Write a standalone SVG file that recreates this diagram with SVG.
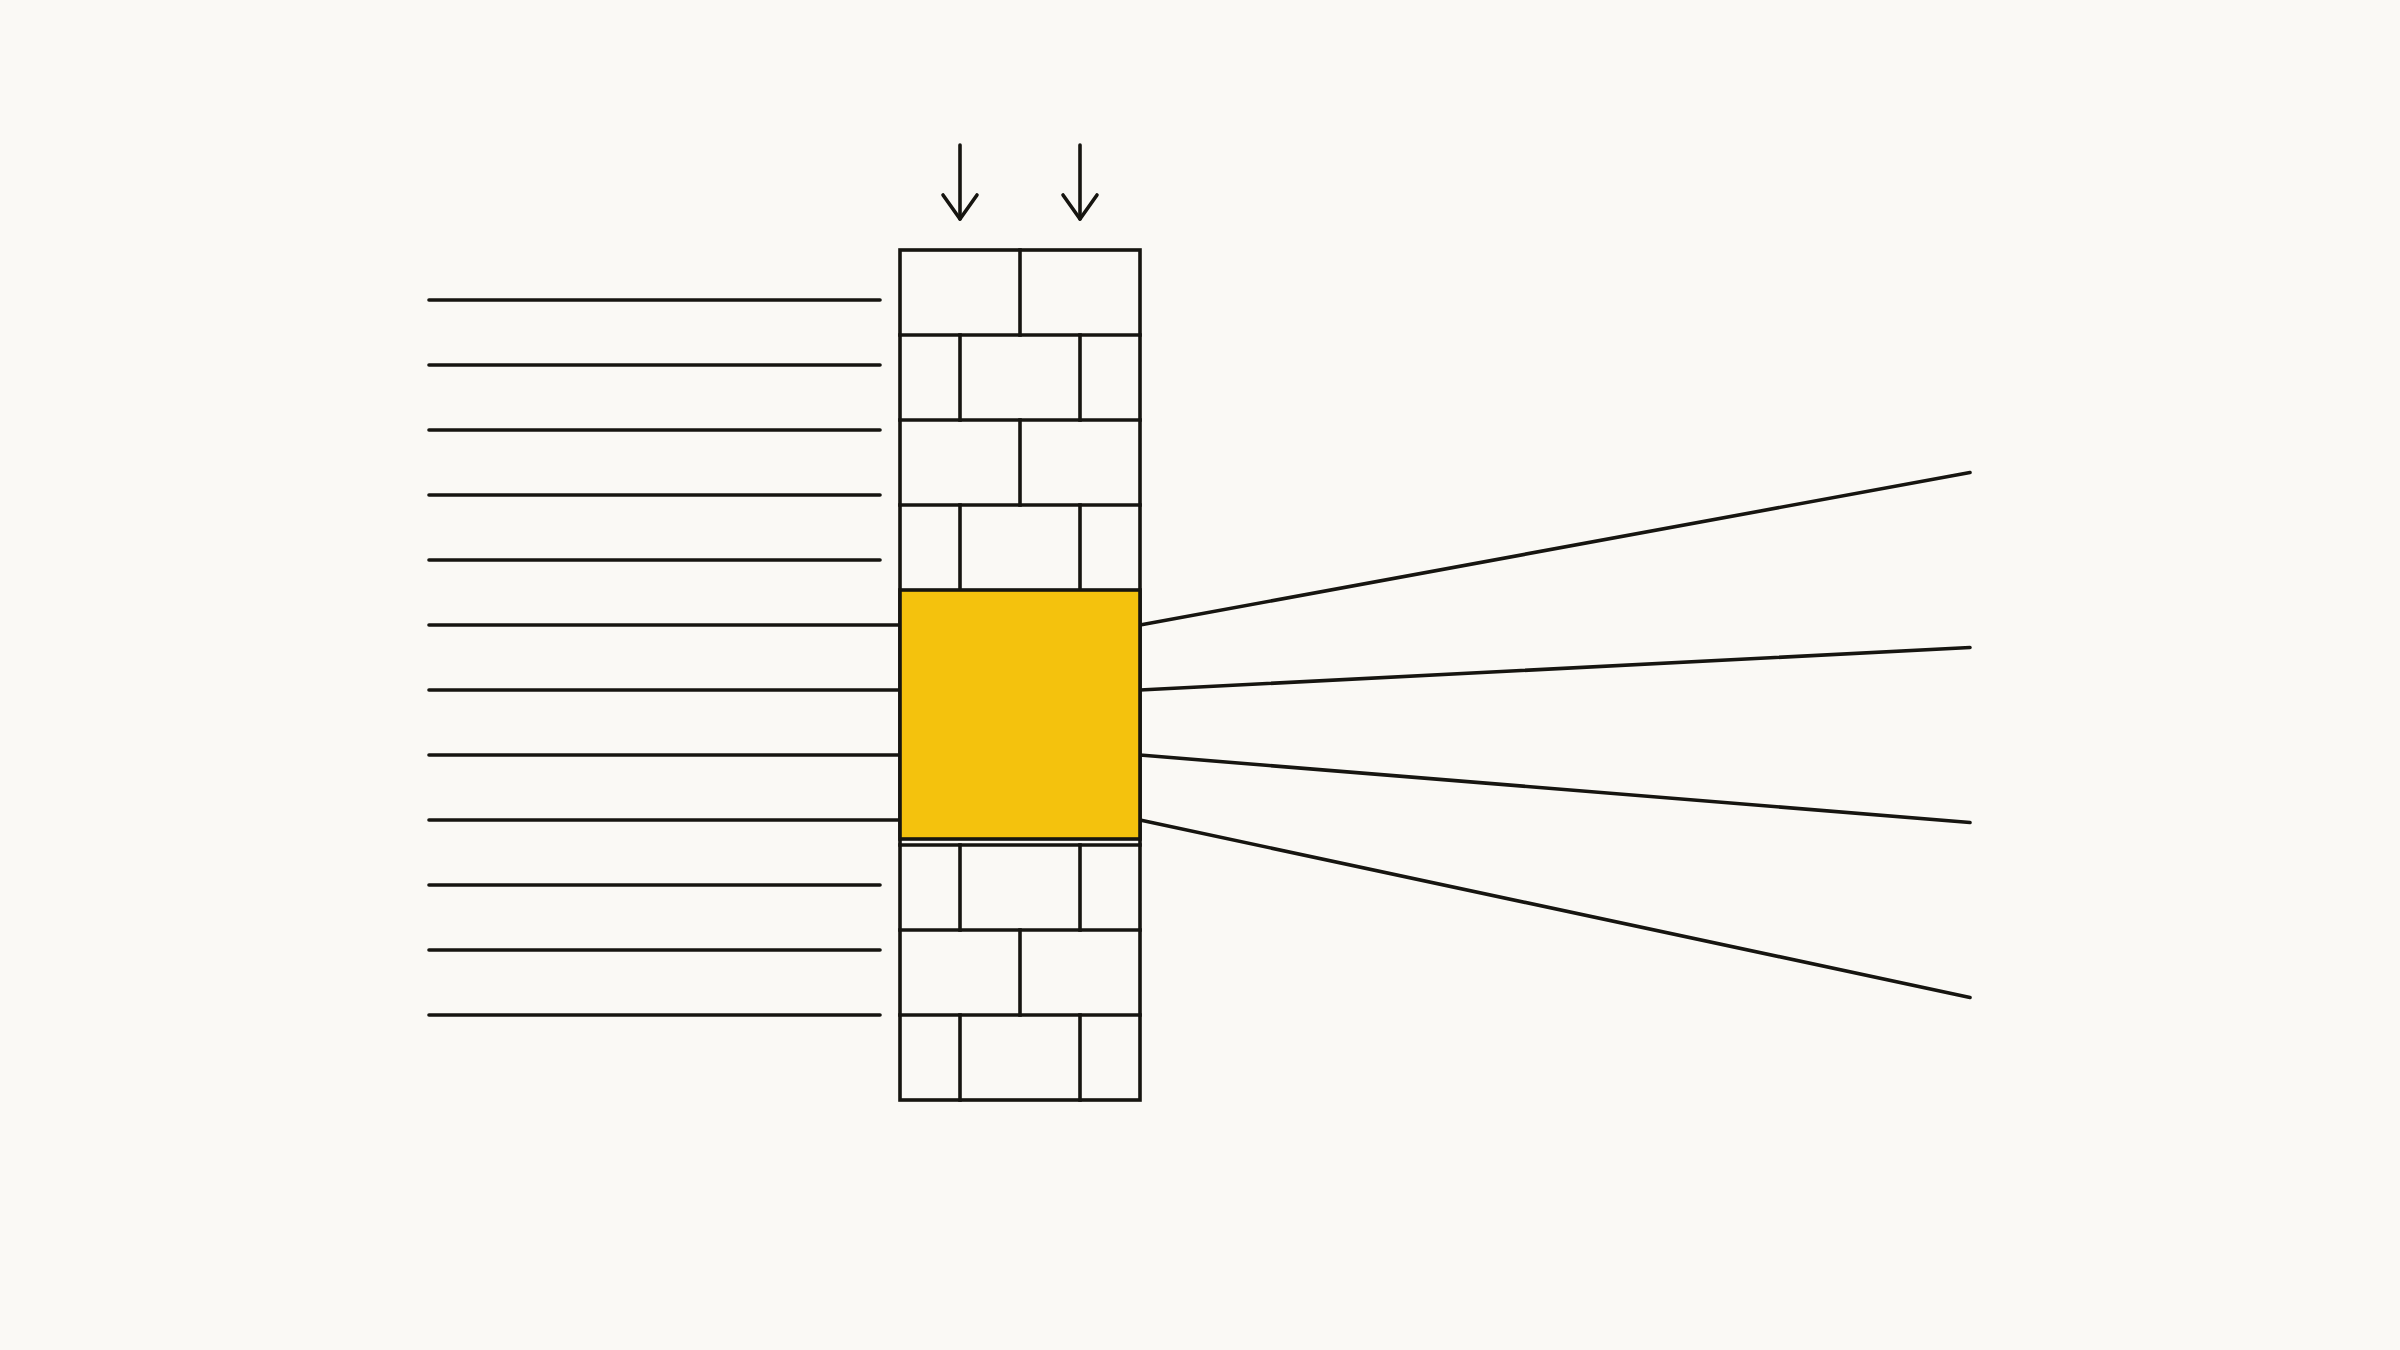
<svg xmlns="http://www.w3.org/2000/svg" width="2400" height="1350" viewBox="0 0 2400 1350">
<style>
.s{stroke:#161510;stroke-width:3.6;fill:none;stroke-linecap:round;stroke-linejoin:round}
.b{stroke:#161510;stroke-width:3.6;fill:none;stroke-linecap:square}
</style>
<rect width="2400" height="1350" fill="#FAF9F5"/>
<g id="connectors">
<g id="incoming" class="s">
<line x1="429" y1="300" x2="880" y2="300"/>
<line x1="429" y1="365" x2="880" y2="365"/>
<line x1="429" y1="430" x2="880" y2="430"/>
<line x1="429" y1="495" x2="880" y2="495"/>
<line x1="429" y1="560" x2="880" y2="560"/>
<line x1="429" y1="625" x2="900" y2="625"/>
<line x1="429" y1="690" x2="900" y2="690"/>
<line x1="429" y1="755" x2="900" y2="755"/>
<line x1="429" y1="820" x2="900" y2="820"/>
<line x1="429" y1="885" x2="880" y2="885"/>
<line x1="429" y1="950" x2="880" y2="950"/>
<line x1="429" y1="1015" x2="880" y2="1015"/>
</g>
<g id="outgoing" class="s">
<line x1="1140" y1="625" x2="1970" y2="472.5"/>
<line x1="1140" y1="690" x2="1970" y2="647.5"/>
<line x1="1140" y1="755" x2="1970" y2="822.5"/>
<line x1="1140" y1="820" x2="1970" y2="997.5"/>
</g>
<g id="arrows" class="s">
<line x1="960" y1="145" x2="960" y2="219"/>
<polyline points="943,195 960,219 977,195"/>
<line x1="1080" y1="145" x2="1080" y2="219"/>
<polyline points="1063,195 1080,219 1097,195"/>
</g>
</g>
<g id="wall" class="b">
<rect x="900" y="250" width="240" height="850"/>
<line x1="900" y1="335" x2="1140" y2="335"/>
<line x1="900" y1="420" x2="1140" y2="420"/>
<line x1="900" y1="505" x2="1140" y2="505"/>
<line x1="900" y1="845" x2="1140" y2="845"/>
<line x1="900" y1="930" x2="1140" y2="930"/>
<line x1="900" y1="1015" x2="1140" y2="1015"/>
<line x1="1020" y1="250" x2="1020" y2="335"/>
<line x1="960" y1="335" x2="960" y2="420"/>
<line x1="1080" y1="335" x2="1080" y2="420"/>
<line x1="1020" y1="420" x2="1020" y2="505"/>
<line x1="960" y1="505" x2="960" y2="590"/>
<line x1="1080" y1="505" x2="1080" y2="590"/>
<line x1="960" y1="845" x2="960" y2="930"/>
<line x1="1080" y1="845" x2="1080" y2="930"/>
<line x1="1020" y1="930" x2="1020" y2="1015"/>
<line x1="960" y1="1015" x2="960" y2="1100"/>
<line x1="1080" y1="1015" x2="1080" y2="1100"/>
</g>
<g id="highlight">
<rect x="900" y="590" width="240" height="249" fill="#F4C20D" stroke="#161510" stroke-width="3.6"/>
</g>
</svg>
